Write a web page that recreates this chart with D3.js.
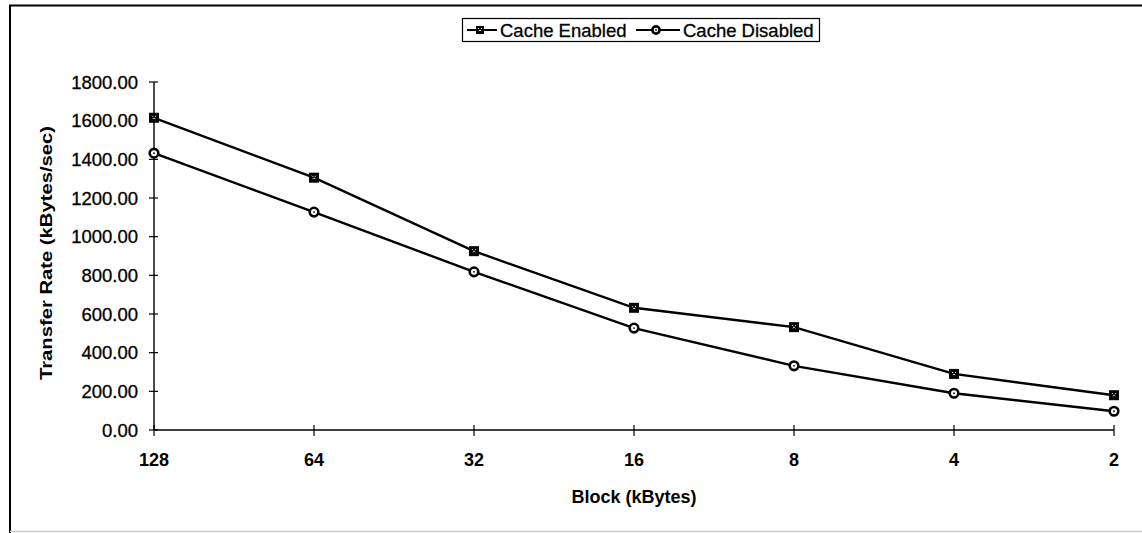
<!DOCTYPE html>
<html>
<head>
<meta charset="utf-8">
<script src="https://cdn.jsdelivr.net/npm/d3@7"></script>
<style>
  html, body { margin: 0; padding: 0; background: #fff; }
  svg { display: block; font-family: "Liberation Sans", Arial, sans-serif; }
</style>
</head>
<body>
<svg id="chart" width="1142" height="533"></svg>
<script>
// Block sizes (kBytes) along the x axis
const blockSizes = ["128", "64", "32", "16", "8", "4", "2"];
// Transfer rates (kBytes/sec)
const cacheEnabled = [1615, 1305, 925, 632, 532, 290, 180];
const cacheDisabled = [1432, 1127, 818, 527, 332, 190, 97];
// Y axis tick values
const yTicks = [0, 200, 400, 600, 800, 1000, 1200, 1400, 1600, 1800];

const svg = d3.select("#chart");

// outer frame
svg.append("line").attr("x1", 10).attr("y1", 5).attr("x2", 10).attr("y2", 533)
  .attr("stroke", "#000").attr("stroke-width", 2);
svg.append("line").attr("x1", 9).attr("y1", 5.5).attr("x2", 1142).attr("y2", 5.5)
  .attr("stroke", "#000").attr("stroke-width", 2);
svg.append("line").attr("x1", 10).attr("y1", 531.5).attr("x2", 1142).attr("y2", 531.5)
  .attr("stroke", "#ccc").attr("stroke-width", 1.5);

const x = d3.scalePoint().domain(blockSizes).range([154, 1114]);
const y = d3.scaleLinear().domain([0, 1800]).range([430, 82]);

// y axis
const yAxis = svg.append("g").attr("transform", "translate(154,0)");
yAxis.append("line").attr("x1", 0).attr("x2", 0).attr("y1", y(1800)).attr("y2", y(0))
  .attr("stroke", "#000").attr("stroke-width", 1.4);
yAxis.selectAll("line.tk").data(yTicks).join("line").attr("class", "tk")
  .attr("x1", -5).attr("x2", 4).attr("y1", d => y(d)).attr("y2", d => y(d))
  .attr("stroke", "#000").attr("stroke-width", 1.2);
yAxis.selectAll("text").data(yTicks).join("text")
  .attr("x", -16).attr("y", d => y(d)).attr("dy", "0.36em")
  .attr("text-anchor", "end").attr("font-size", 18.5)
  .attr("stroke", "#000").attr("stroke-width", 0.3)
  .text(d => d3.format(".2f")(d));

// x axis
const xAxis = svg.append("g").attr("transform", `translate(0,${y(0)})`);
xAxis.append("line").attr("x1", 154).attr("x2", 1114).attr("y1", 0).attr("y2", 0)
  .attr("stroke", "#000").attr("stroke-width", 1.4);
xAxis.selectAll("line.tk").data(blockSizes).join("line").attr("class", "tk")
  .attr("x1", d => x(d)).attr("x2", d => x(d)).attr("y1", -5).attr("y2", 6)
  .attr("stroke", "#000").attr("stroke-width", 1.2);
xAxis.selectAll("text").data(blockSizes).join("text")
  .attr("x", d => x(d)).attr("y", 36)
  .attr("text-anchor", "middle").attr("font-size", 18).attr("font-weight", "bold")
  .text(d => d);

// axis titles
svg.append("text").attr("x", 634).attr("y", 503).attr("text-anchor", "middle")
  .attr("font-size", 18).attr("font-weight", "bold").text("Block (kBytes)");
svg.append("text").attr("transform", `translate(52,253) rotate(-90)`)
  .attr("text-anchor", "middle").attr("font-size", 16).attr("font-weight", "bold")
  .attr("textLength", 254).attr("lengthAdjust", "spacingAndGlyphs")
  .text("Transfer Rate (kBytes/sec)");

// series lines
const line = d3.line().x((d, i) => x(blockSizes[i])).y(d => y(d));
[cacheEnabled, cacheDisabled].forEach(s => {
  svg.append("path").attr("d", line(s)).attr("fill", "none")
    .attr("stroke", "#000").attr("stroke-width", 2.4);
});

function squareMarker(g, cx, cy, s) {
  g.append("rect").attr("x", cx - s / 2).attr("y", cy - s / 2).attr("width", s).attr("height", s)
    .attr("fill", "#000");
  g.append("path").attr("d", `M${cx - 2},${cy - 2}L${cx + 2},${cy + 2}M${cx + 2},${cy - 2}L${cx - 2},${cy + 2}`)
    .attr("stroke", "#fff").attr("stroke-width", 1).attr("stroke-dasharray", "1.5,1.5");
}
function circleMarker(g, cx, cy, r) {
  g.append("circle").attr("cx", cx).attr("cy", cy).attr("r", r)
    .attr("fill", "#fff").attr("stroke", "#000").attr("stroke-width", 2.6);
  g.append("circle").attr("cx", cx).attr("cy", cy).attr("r", 0.9).attr("fill", "#000");
}

const markers = svg.append("g");
cacheEnabled.forEach((v, i) => squareMarker(markers, x(blockSizes[i]), y(v), 10));
cacheDisabled.forEach((v, i) => circleMarker(markers, x(blockSizes[i]), y(v), 4.3));

// legend
const lg = svg.append("g");
lg.append("rect").attr("x", 462.5).attr("y", 18.5).attr("width", 357).attr("height", 23)
  .attr("fill", "#fff").attr("stroke", "#000").attr("stroke-width", 1.2);
const ly = 30;
lg.append("line").attr("x1", 467).attr("x2", 497).attr("y1", ly).attr("y2", ly)
  .attr("stroke", "#000").attr("stroke-width", 2);
squareMarker(lg, 480, ly, 8);
lg.append("text").attr("x", 500).attr("y", ly).attr("dy", "0.36em").attr("font-size", 18.5)
  .attr("stroke", "#000").attr("stroke-width", 0.3)
  .text("Cache Enabled");
lg.append("line").attr("x1", 636).attr("x2", 680).attr("y1", ly).attr("y2", ly)
  .attr("stroke", "#000").attr("stroke-width", 2);
circleMarker(lg, 656, ly, 3.6);
lg.append("text").attr("x", 683).attr("y", ly).attr("dy", "0.36em").attr("font-size", 18.5)
  .attr("stroke", "#000").attr("stroke-width", 0.3)
  .text("Cache Disabled");
</script>
</body>
</html>
